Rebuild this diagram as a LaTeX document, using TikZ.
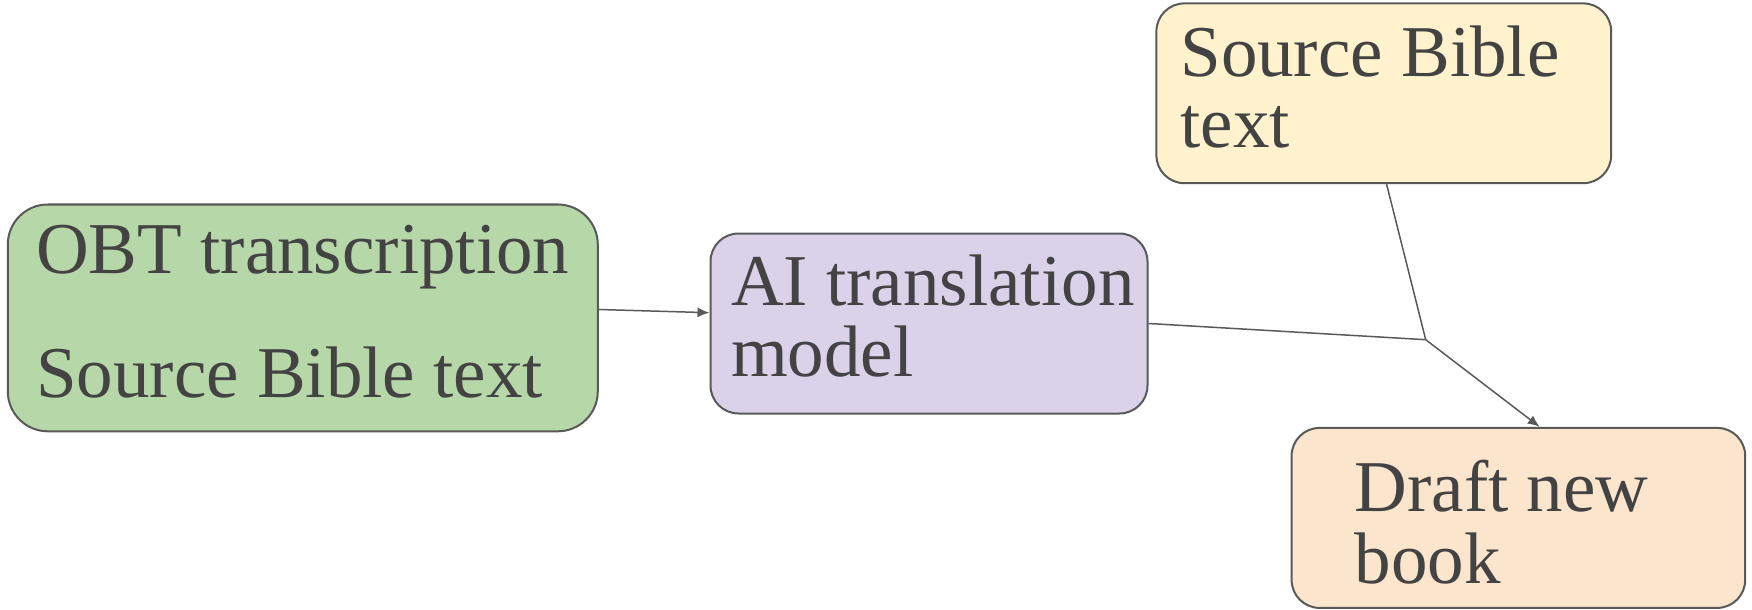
\documentclass[tikz,border=0pt]{standalone}
\usepackage{fontspec}
\setmainfont{Liberation Serif}
\usetikzlibrary{positioning,arrows.meta}
\definecolor{boxline}{HTML}{595959}
\definecolor{inktext}{HTML}{434343}
\definecolor{obtgreen}{HTML}{B6D7A8}
\definecolor{aipurple}{HTML}{D9D2E9}
\definecolor{srcyellow}{HTML}{FFF2CC}
\definecolor{draftorange}{HTML}{FCE5CD}
\tikzset{
	every node/.style = {inner sep = 0},
	box/.style = {draw=boxline, line width=1pt, rounded corners=14pt},
	boxtext/.style = {anchor=base west, align=left, text=inktext, font=\fontsize{36.5}{35.75}\selectfont},
	flow/.style = {draw=boxline, line width=0.75pt},
	>={Latex[length=6pt,width=5pt]}
}

\begin{document}
\begin{tikzpicture}[x=0.5pt,y=-0.5pt]
		\useasboundingbox (0,0) rectangle (1752,610);
		\node(obt)[box, fill=obtgreen, rounded corners=20pt, minimum width=295pt, minimum height=113.4pt] at (302.8,317.9) {};
		\node(model)[box, fill=aipurple, minimum width=218.5pt, minimum height=90pt] at (929,323.5) {};
		\node(source)[box, fill=srcyellow, minimum width=227.4pt, minimum height=89.9pt] at (1383.8,93.3) {};
		\node(draft)[box, fill=draftorange, minimum width=226.8pt, minimum height=90pt] at (1518.4,517.9) {};

		% base anchor sits on the last line
		\node(obttext)[boxtext] at ([xshift=14.5pt,yshift=-97.2pt]obt.north west) {OBT transcription\\[26.25pt]Source Bible text};
		\node(modeltext)[boxtext] at ([xshift=10.6pt,yshift=-72.05pt]model.north west) {AI translation\\model};
		\node(sourcetext)[boxtext] at ([xshift=12.3pt,yshift=-72.6pt]source.north west) {Source Bible\\text};
		\node(drafttext)[boxtext] at ([xshift=31.85pt,yshift=-78.25pt]draft.north west) {Draft new\\book};

		\coordinate(merge) at (1425.7,339.7);
		\path[flow, ->] ([yshift=4.2pt]obt.east) -- ([yshift=5.4pt]model.west);
		\path[flow] (model.east) -- (merge);
		\path[flow] ([xshift=1.4pt]source.south) -- (merge);
		\path[flow, ->] (merge) -- ([xshift=10.65pt]draft.north);
\end{tikzpicture}
\end{document}
